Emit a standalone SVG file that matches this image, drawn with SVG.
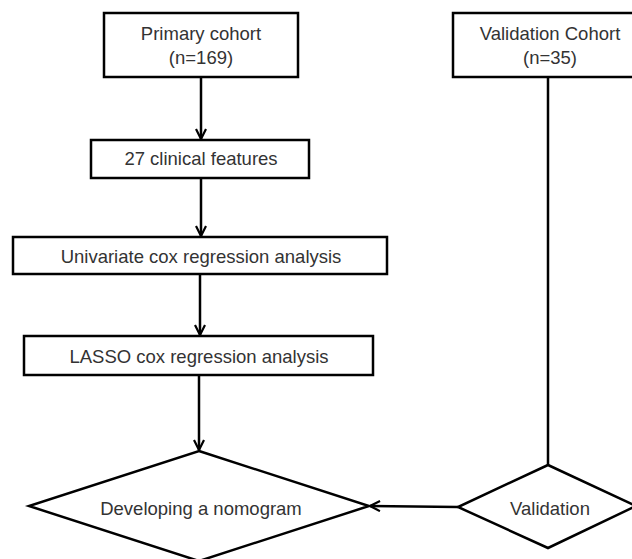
<svg xmlns="http://www.w3.org/2000/svg" width="632" height="559" viewBox="0 0 632 559">
<defs>
<style>
.box{fill:#fff;stroke:#000;stroke-width:2.5}
.t{font-family:"Liberation Sans",Arial,sans-serif;font-size:18.5px;fill:#333;text-anchor:middle}
.c{fill:none;stroke:#000;stroke-width:2.5}
</style>
<marker id="ah" viewBox="0 0 12 12" refX="11" refY="6" markerWidth="12" markerHeight="12" markerUnits="userSpaceOnUse" orient="auto">
<path d="M1,1 L11,6 L1,11" fill="none" stroke="#000" stroke-width="2.2"/>
</marker>
</defs>
<rect width="632" height="559" fill="#fff"/>
<g id="connectors">
<line class="c" x1="201" y1="77" x2="201" y2="139" marker-end="url(#ah)"/>
<line class="c" x1="201" y1="178" x2="201" y2="236" marker-end="url(#ah)"/>
<line class="c" x1="200" y1="274" x2="200" y2="335" marker-end="url(#ah)"/>
<line class="c" x1="199" y1="375" x2="199" y2="450" marker-end="url(#ah)"/>
<line class="c" x1="548" y1="77" x2="548" y2="465"/>
<line class="c" x1="458" y1="507" x2="370" y2="506" marker-end="url(#ah)"/>
</g>
<g id="primary">
<rect class="box" x="104" y="13" width="194" height="64"/>
<text class="t" x="201" y="40">Primary cohort</text>
<text class="t" x="201" y="64">(n=169)</text>
</g>
<g id="validationCohort">
<rect class="box" x="453" y="13" width="194" height="64"/>
<text class="t" x="550" y="40">Validation Cohort</text>
<text class="t" x="550" y="64">(n=35)</text>
</g>
<g id="features">
<rect class="box" x="91" y="140" width="218" height="38"/>
<text class="t" x="201" y="165">27 clinical features</text>
</g>
<g id="univariate">
<rect class="box" x="13" y="237" width="374" height="37"/>
<text class="t" x="201" y="263">Univariate cox regression analysis</text>
</g>
<g id="lasso">
<rect class="box" x="24" y="336" width="349" height="39"/>
<text class="t" x="199" y="363">LASSO cox regression analysis</text>
</g>
<g id="nomogram">
<polygon class="box" points="199,451 369,506 199,561 29,506"/>
<text class="t" x="201" y="515">Developing a nomogram</text>
</g>
<g id="validation">
<polygon class="box" points="548,465 636,506 548,548 458,507"/>
<text class="t" x="550" y="515">Validation</text>
</g>
</svg>
